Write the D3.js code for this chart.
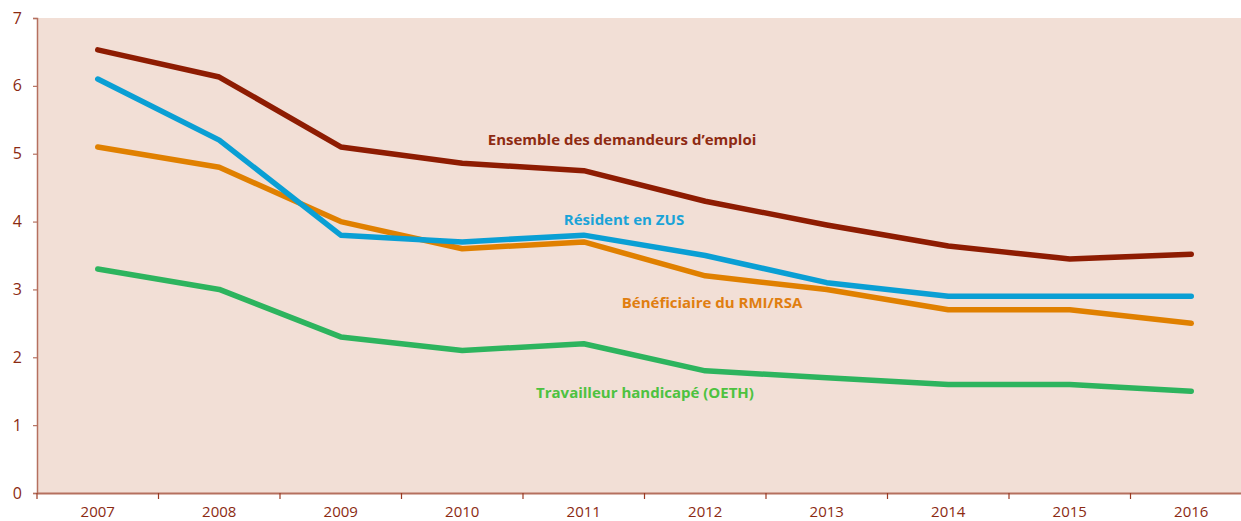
<!DOCTYPE html>
<html><head><meta charset="utf-8">
<script src="https://cdn.jsdelivr.net/npm/d3@7"></script>
<style>body{margin:0;background:#fff}svg{display:block}</style>
</head><body>
<svg id="c" width="1241" height="521"></svg>
<script>
const years = ["2007","2008","2009","2010","2011","2012","2013","2014","2015","2016"];
const yTicks = [0,1,2,3,4,5,6,7];
const ensemble = [6.53,6.13,5.10,4.86,4.75,4.30,3.95,3.64,3.45,3.52];
const zus = [6.1,5.2,3.8,3.7,3.8,3.5,3.1,2.9,2.9,2.9];
const rmi = [5.1,4.8,4.0,3.6,3.7,3.2,3.0,2.7,2.7,2.5];
const oeth = [3.3,3.0,2.3,2.1,2.2,1.8,1.7,1.6,1.6,1.5];
const seriesNames = ["Ensemble des demandeurs d\u2019emploi","R\u00e9sident en ZUS","B\u00e9n\u00e9ficiaire du RMI/RSA","Travailleur handicap\u00e9 (OETH)"];

const svg = d3.select("#c");
const font = "'Open Sans', 'Noto Sans', sans-serif";
const x = d3.scaleBand().domain(years).range([37, 1252]);
const y = d3.scaleLinear().domain([0,7]).range([493, 18]);

svg.append("rect").attr("x",37).attr("y",y(7)).attr("width",1241-37).attr("height",y(0)-y(7)).attr("fill","#F2DFD6");

const axisColor = "#B5705F";
// y axis
const ya = svg.append("g").attr("transform","translate(37,0)").call(d3.axisLeft(y).tickValues(yTicks).tickSize(4).tickPadding(11).tickFormat(d3.format("d")));
ya.select(".domain").attr("stroke",axisColor).attr("stroke-width",1.5);
ya.selectAll(".tick line").attr("stroke",axisColor).attr("stroke-width",1.2);
ya.selectAll("text").attr("fill","#8B2A12").attr("font-family",font).attr("font-size",16);

// x axis
const xa = svg.append("g").attr("transform","translate(0,493)").call(d3.axisBottom(x).tickSize(0));
xa.select(".domain").attr("stroke",axisColor).attr("stroke-width",2);
xa.selectAll("text").attr("fill","#8B2A12").attr("font-family",font).attr("font-size",15).attr("y",24).attr("dy",0);
// between-band ticks
const bounds = years.map(d => x(d));
xa.selectAll(".btick").data(bounds).enter().append("line").attr("class","btick")
  .attr("x1",d=>d).attr("x2",d=>d).attr("y1",0).attr("y2",6).attr("stroke","#9A3A22").attr("stroke-width",1.2);

const line = d3.line().x((d,i)=>x(years[i])+x.bandwidth()/2).y(d=>y(d));
const series = [
  {v: rmi, c:"#E08000"},
  {v: zus, c:"#0A9FD4"},
  {v: oeth, c:"#2DB45E"},
  {v: ensemble, c:"#8E1C02"}
];
series.forEach(s => svg.append("path").attr("d", line(s.v)).attr("fill","none").attr("stroke",s.c).attr("stroke-width",5.5).attr("stroke-linejoin","round").attr("stroke-linecap","round"));

const labels = [
  {t: seriesNames[0], x: 622, y: 140, c:"#8E2A12"},
  {t: seriesNames[1], x: 624, y: 220, c:"#1AA3D8"},
  {t: seriesNames[2], x: 712, y: 303, c:"#E07E10"},
  {t: seriesNames[3], x: 645, y: 393, c:"#4DC240"}
];
labels.forEach(l => svg.append("text").attr("x",l.x).attr("y",l.y).attr("dy","0.35em").attr("text-anchor","middle")
  .attr("font-family",font).attr("font-weight","bold").attr("font-size",15).attr("fill",l.c).text(l.t));
</script>
</body></html>
